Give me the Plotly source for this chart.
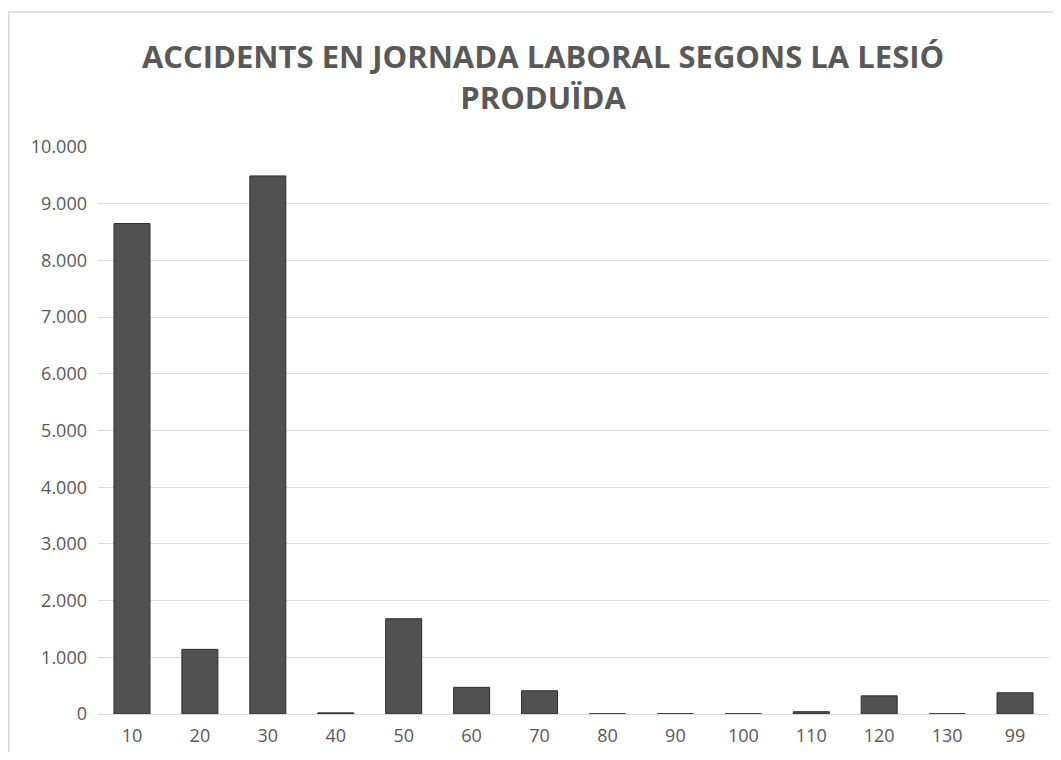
import plotly.graph_objects as go

# codi de lesió i nombre d'accidents
lesio = ["10", "20", "30", "40", "50", "60", "70", "80", "90", "100", "110", "120", "130", "99"]
accidents = [8650, 1140, 9490, 20, 1680, 470, 410, 3, 3, 3, 40, 320, 3, 375]

TEXT_COLOR = "#595959"
GRID_COLOR = "#d9d9d9"

fig = go.Figure(
    go.Bar(
        x=lesio,
        y=accidents,
        width=0.53,
        marker=dict(color="#515151", line=dict(color="#2e2e2e", width=1)),
        hovertemplate="%{x}: %{y:,d}<extra></extra>",
    )
)

# the page body adds 8px all round, so the figure is 16px smaller than the window
fig.update_layout(
    width=1045,
    height=744,
    margin=dict(l=90, r=4, t=139, b=38),
    paper_bgcolor="white",
    plot_bgcolor="white",
    separators=",.",
    showlegend=False,
    title=dict(
        text="<b>ACCIDENTS EN JORNADA LABORAL SEGONS LA LESIÓ<br>PRODUÏDA</b>",
        x=0.512,
        xanchor="center",
        y=0.919,
        yanchor="top",
        font=dict(family="Open Sans", size=31, color=TEXT_COLOR),
    ),
    font=dict(family="Open Sans", size=18, color=TEXT_COLOR),
)

fig.update_xaxes(
    type="category",
    showgrid=False,
    showline=False,
    ticks="",
    ticklabelstandoff=9,
    tickfont=dict(size=18, color=TEXT_COLOR),
)
fig.update_yaxes(
    range=[0, 10000],
    dtick=1000,
    tickformat=",d",
    gridcolor=GRID_COLOR,
    gridwidth=1,
    zeroline=True,
    zerolinecolor=GRID_COLOR,
    zerolinewidth=1,
    showline=False,
    ticks="",
    ticklabelstandoff=10,
    tickfont=dict(size=18, color=TEXT_COLOR),
)

# marc del gràfic
fig.add_shape(
    type="rect",
    xref="paper",
    yref="paper",
    x0=-0.0938,
    x1=1.03,
    y0=-0.12,
    y1=1.238,
    line=dict(color=GRID_COLOR, width=1.5),
    fillcolor="rgba(0,0,0,0)",
    layer="below",
)

fig.write_html("out.html")
